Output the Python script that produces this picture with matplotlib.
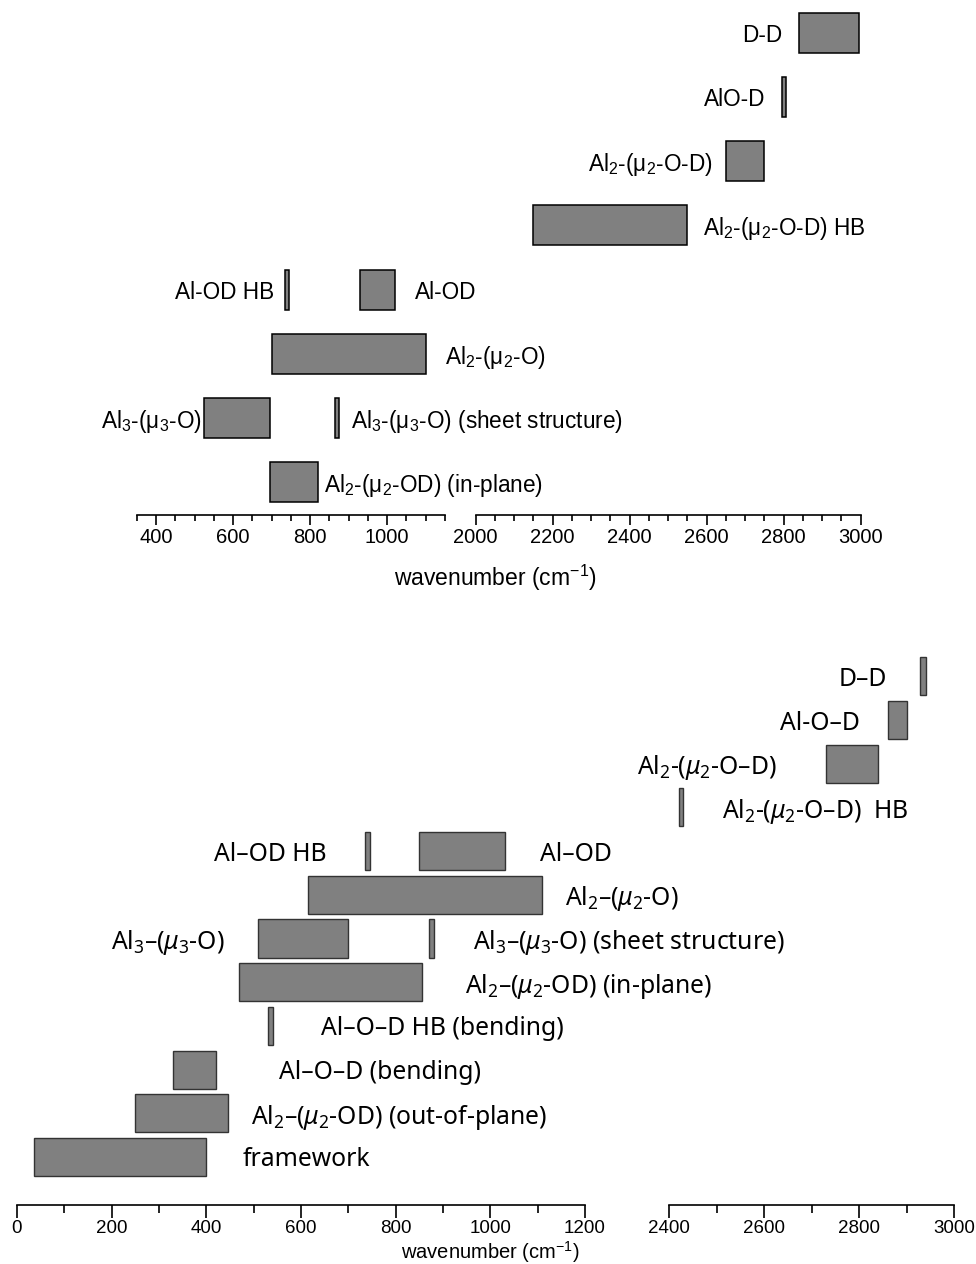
import matplotlib
matplotlib.use("Agg")
import matplotlib.pyplot as plt
from matplotlib.ticker import MultipleLocator

# ---------------- data ----------------
# top panel: band ranges (cm^-1), row index (0 = bottom row)
top_names = [
    "Al$\\mathregular{_2}$-(μ$\\mathregular{_2}$-OD) (in-plane)",
    "Al$\\mathregular{_3}$-(μ$\\mathregular{_3}$-O)",
    "Al$\\mathregular{_3}$-(μ$\\mathregular{_3}$-O) (sheet structure)",
    "Al$\\mathregular{_2}$-(μ$\\mathregular{_2}$-O)",
    "Al-OD HB",
    "Al-OD",
    "Al$\\mathregular{_2}$-(μ$\\mathregular{_2}$-O-D) HB",
    "Al$\\mathregular{_2}$-(μ$\\mathregular{_2}$-O-D)",
    "AlO-D",
    "D-D",
]
top_lo = [695, 525, 865, 700, 735, 930, 2150, 2650, 2795, 2840]
top_hi = [820, 695, 875, 1100, 745, 1020, 2550, 2750, 2805, 2995]
top_row = [0, 1, 1, 2, 3, 3, 4, 5, 6, 7]

# bottom panel
bot_names = [
    "framework",
    "Al$_2$–($\\mu_2$-OD) (out-of-plane)",
    "Al–O–D (bending)",
    "Al–O–D HB (bending)",
    "Al$_2$–($\\mu_2$-OD) (in-plane)",
    "Al$_3$–($\\mu_3$-O)",
    "Al$_3$–($\\mu_3$-O) (sheet structure)",
    "Al$_2$–($\\mu_2$-O)",
    "Al–OD HB",
    "Al–OD",
    "Al$_2$-($\\mu_2$-O–D)  HB",
    "Al$_2$-($\\mu_2$-O–D)",
    "Al-O–D",
    "D–D",
]
bot_lo = [35, 250, 330, 530, 470, 510, 870, 615, 735, 850, 2420, 2730, 2860, 2928]
bot_hi = [400, 445, 420, 540, 855, 700, 880, 1110, 745, 1030, 2430, 2840, 2900, 2940]
bot_row = [0, 1, 2, 3, 4, 5, 5, 6, 7, 7, 8, 9, 10, 11]

# ---------------- label layout (anchor x in cm^-1, alignment) ----------------
top_label_x = [836, 518, 907, 1149, 707, 1071, 2590, 2616, 2753, 2797]
top_label_ha = ["left", "right", "left", "left", "right", "left", "left", "right", "right", "right"]
bot_label_x = [476, 495, 553, 642, 946, 439, 964, 1158, 654, 1105, 2511, 2627, 2802, 2858]
bot_label_ha = ["left", "left", "left", "left", "left", "right", "left", "left", "right",
                "left", "left", "right", "right", "right"]

plt.rcParams["mathtext.fontset"] = "custom"
plt.rcParams["mathtext.rm"] = "Noto Sans"
plt.rcParams["mathtext.it"] = "Noto Sans:italic"
plt.rcParams["mathtext.bf"] = "Noto Sans:bold"

W, H = 976, 1264
fig = plt.figure(figsize=(W / 100, H / 100), dpi=100)

def fx(px):
    return px / W

def fy(py):
    return 1 - py / H

ARIAL = "Liberation Sans"
HUM = "Noto Sans"

def style_axis(ax, xmin, xmax, major, minor, ylim, tick_fs, maj_len, min_len, lw):
    ax.set_xlim(xmin, xmax)
    ax.set_ylim(*ylim)
    for s in ("left", "right", "top"):
        ax.spines[s].set_visible(False)
    ax.spines["bottom"].set_linewidth(lw)
    ax.set_yticks([])
    ax.xaxis.set_major_locator(MultipleLocator(major))
    ax.xaxis.set_minor_locator(MultipleLocator(minor))
    ax.tick_params(axis="x", which="major", direction="out", length=maj_len, width=lw,
                   labelsize=tick_fs, pad=2)
    ax.tick_params(axis="x", which="minor", direction="out", length=min_len, width=lw)
    for lab in ax.get_xticklabels():
        lab.set_fontfamily(ARIAL)
    ax.patch.set_visible(False)

# ---------------- top panel ----------------
t_bottom_px, t_top_px = 515, 5
row_sp = 64.14
ylim_top = (-(t_bottom_px - 482) / row_sp, 7 + (33 - t_top_px) / row_sp)
ax_tl = fig.add_axes([fx(136.7), fy(t_bottom_px), fx(308.3), (t_bottom_px - t_top_px) / H])
ax_tr = fig.add_axes([fx(475.7), fy(t_bottom_px), fx(385.0), (t_bottom_px - t_top_px) / H])
style_axis(ax_tl, 350, 1150, 200, 50, ylim_top, 14.5, 7.5, 4.5, 1.2)
style_axis(ax_tr, 2000, 3000, 200, 50, ylim_top, 14.5, 7.5, 4.5, 1.2)

bh_top = 0.624
for lo, hi, r in zip(top_lo, top_hi, top_row):
    for ax in (ax_tl, ax_tr):
        ax.barh(r, hi - lo, left=lo, height=bh_top, color="#808080",
                edgecolor="black", linewidth=1.1)

for name, r, lx, ha in zip(top_names, top_row, top_label_x, top_label_ha):
    ax = ax_tl if lx < 1500 else ax_tr
    ax.text(lx, r, name, ha=ha, va="center_baseline", fontsize=16.3,
            family=ARIAL, clip_on=False)

fig.text(fx(495), fy(578), "wavenumber (cm$\\mathregular{^{-1}}$)", ha="center",
         va="center", fontsize=16.5, family=ARIAL)

# ---------------- bottom panel ----------------
b_bottom_px, b_top_px = 1205, 650
row_sp_b = 43.7
row0_px = 1157.0
ylim_bot = (-(b_bottom_px - row0_px) / row_sp_b,
            11 + ((row0_px - 11 * row_sp_b) - b_top_px) / row_sp_b)
ax_bl = fig.add_axes([fx(17), fy(b_bottom_px), fx(568), (b_bottom_px - b_top_px) / H])
ax_br = fig.add_axes([fx(669), fy(b_bottom_px), fx(285), (b_bottom_px - b_top_px) / H])
style_axis(ax_bl, 0, 1200, 200, 100, ylim_bot, 13.5, 9, 5.5, 1.2)
style_axis(ax_br, 2400, 3000, 200, 100, ylim_bot, 13.5, 9, 5.5, 1.2)

bh_bot = 0.874
for lo, hi, r in zip(bot_lo, bot_hi, bot_row):
    for ax in (ax_bl, ax_br):
        ax.barh(r, hi - lo, left=lo, height=bh_bot, color="#808080",
                edgecolor="#333333", linewidth=1.0)

for name, r, lx, ha in zip(bot_names, bot_row, bot_label_x, bot_label_ha):
    ax = ax_bl if lx < 2000 else ax_br
    ax.text(lx, r, name, ha=ha, va="center_baseline", fontsize=17.8,
            family=HUM, clip_on=False)

fig.text(fx(490), fy(1252), "wavenumber (cm$\\mathregular{^{-1}}$)", ha="center",
         va="center", fontsize=14.5, family=ARIAL)

fig.savefig("out.png", dpi=100)
